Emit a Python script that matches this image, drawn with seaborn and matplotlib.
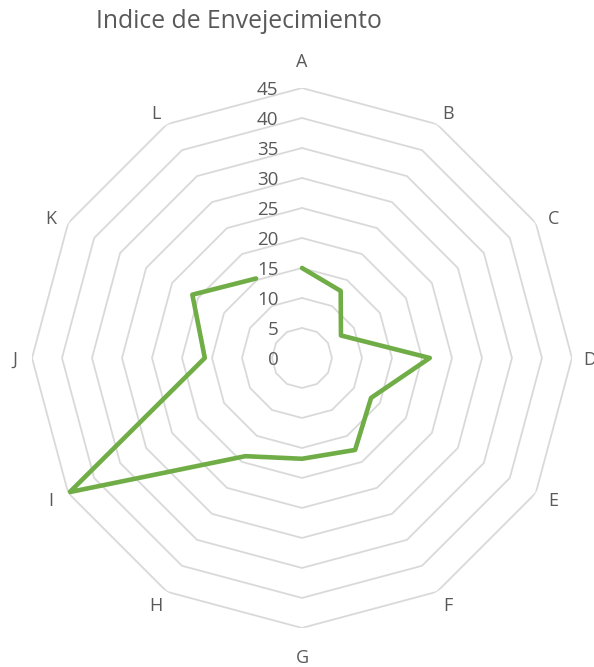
import numpy as np
import pandas as pd
import seaborn as sns
import matplotlib
matplotlib.use("Agg")
import matplotlib.pyplot as plt

# Aging index per zone
categories = ["A", "B", "C", "D", "E", "F", "G", "H", "I", "J", "K", "L"]
values = [15, 12.9, 7.5, 21.3, 13.3, 17.7, 16.8, 18.9, 44.7, 16.2, 21.1, 15.3]
ring_levels = [5, 10, 15, 20, 25, 30, 35, 40, 45]
tick_labels = ["0", "5", "10", "15", "20", "25", "30", "35", "40", "45"]
title = "Indice de Envejecimiento"

sns.set_theme(style="white")
plt.rcParams["font.family"] = ["Open Sans", "DejaVu Sans"]

text_color = "#595959"
grid_color = "#d9d9d9"
line_color = "#70ad47"

fig = plt.figure(figsize=(5.94, 6.67), dpi=100)
ax = fig.add_axes([0.0539, 0.0585, 0.909, 0.8096], projection="polar")
ax.set_theta_zero_location("N")
ax.set_theta_direction(-1)
ax.set_ylim(0, 45)
ax.grid(False)
ax.spines["polar"].set_visible(False)
ax.set_xticks([])
ax.set_yticks([])
ax.patch.set_alpha(0)

n = len(categories)
angles = np.linspace(0, 2 * np.pi, n, endpoint=False)
closed_angles = np.append(angles, angles[0])

# polygonal grid rings
for lvl in ring_levels:
    ax.plot(closed_angles, [lvl] * (n + 1), color=grid_color, lw=1.3, zorder=1)

# data series
df = pd.DataFrame({"angle": closed_angles, "value": values + values[:1]})
sns.lineplot(data=df, x="angle", y="value", sort=False, ax=ax,
             color=line_color, lw=3.3, zorder=3)
ax.set_xlabel("")
ax.set_ylabel("")
ax.set_ylim(0, 45)

# radial value labels
for lab in tick_labels:
    ax.annotate(lab, xy=(0, float(lab)), xytext=(-17, 0), textcoords="offset points",
                ha="right", va="center_baseline", fontsize=13.5, color=text_color,
                zorder=4)

# category labels: top/bottom a bit further out, diagonal ones nudged sideways
for ang, cat in zip(angles, categories):
    s, c = np.sin(ang), np.cos(ang)
    vertical = abs(c) > 0.99
    horizontal = abs(s) > 0.99
    r = 47.9 + (1.8 if vertical else 0.0)
    if vertical or horizontal:
        dx, dy = 0.0, 0.0
    else:
        dx, dy = 1.8 * np.sign(s), -2.2 * np.sign(c)
    ax.annotate(cat, xy=(ang, r), xytext=(dx, dy), textcoords="offset points",
                ha="center", va="center_baseline", fontsize=13,
                color=text_color, annotation_clip=False)

fig.text(0.402, 0.958, title, ha="center", va="baseline", fontsize=17.8,
         color=text_color)

fig.savefig("out.png", dpi=100)
